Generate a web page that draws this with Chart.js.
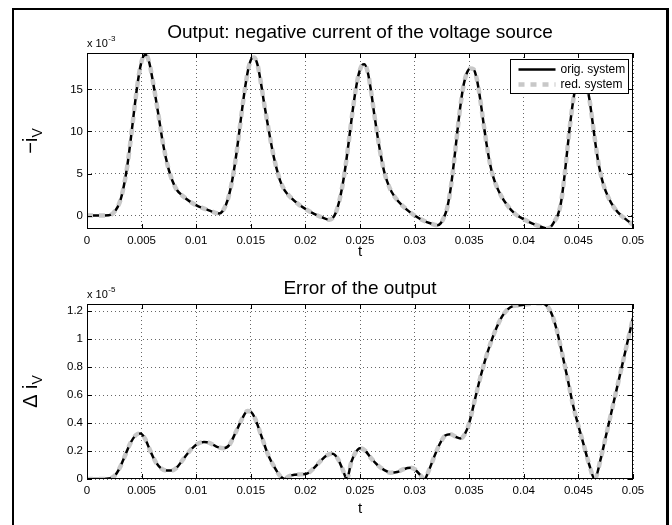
<!DOCTYPE html>
<html><head><meta charset="utf-8">
<script src="https://cdn.jsdelivr.net/npm/chart.js@4.4.1/dist/chart.umd.min.js"></script>
<style>
html,body{margin:0;padding:0;background:#fff;overflow:hidden;width:672px;height:525px;position:relative}
#frame{position:absolute;left:12px;top:8px;width:652px;height:700px;border-left:2px solid #000;border-top:2px solid #000;border-right:3px solid #000}
canvas{position:absolute;left:0}
</style></head><body>
<div id="frame"></div>
<canvas id="c1" width="672" height="262" style="top:0"></canvas>
<canvas id="c2" width="672" height="263" style="top:262px"></canvas>
<script>
const FONT = '"Liberation Sans", Arial, Helvetica, sans-serif';

// shared time axis ticks
const timeTicks = [0, 0.005, 0.01, 0.015, 0.02, 0.025, 0.03, 0.035, 0.04, 0.045, 0.05];
const timeTickLabels = ['0', '0.005', '0.01', '0.015', '0.02', '0.025', '0.03', '0.035', '0.04', '0.045', '0.05'];

// top plot: -i_V (x 1e-3)
const outTime = [0, 0.001, 0.002, 0.0024, 0.0028, 0.0031, 0.0034, 0.0037, 0.0040, 0.0043, 0.0046, 0.0049, 0.0052, 0.0054, 0.0057, 0.0060, 0.0063, 0.0066, 0.0069, 0.0072, 0.0075, 0.0078, 0.0082, 0.0088, 0.0095, 0.0102, 0.0110, 0.0117, 0.0121,
  0.0124, 0.0127, 0.0130, 0.0133, 0.0136, 0.0139, 0.0142, 0.0145, 0.0148, 0.0151, 0.0153, 0.0156, 0.0159, 0.0162, 0.0165, 0.0168, 0.0171, 0.0174, 0.0177, 0.0181, 0.0187, 0.0194, 0.0201, 0.0208, 0.0215, 0.0222,
  0.0225, 0.0228, 0.0231, 0.0234, 0.0237, 0.0240, 0.0243, 0.0246, 0.0249, 0.0252, 0.0254, 0.0257, 0.0260, 0.0263, 0.0266, 0.0269, 0.0272, 0.0275, 0.0279, 0.0285, 0.0292, 0.0300, 0.0308, 0.0315, 0.0321,
  0.0324, 0.0327, 0.0330, 0.0333, 0.0336, 0.0339, 0.0342, 0.0345, 0.0348, 0.0351, 0.0354, 0.0357, 0.0360, 0.0363, 0.0366, 0.0369, 0.0372, 0.0375, 0.0379, 0.0385, 0.0392, 0.0400, 0.0408, 0.0415, 0.0422,
  0.0425, 0.0428, 0.0431, 0.0434, 0.0437, 0.0440, 0.0443, 0.0446, 0.0449, 0.0452, 0.0454, 0.0457, 0.0460, 0.0463, 0.0466, 0.0469, 0.0472, 0.0475, 0.0480, 0.0486, 0.0493, 0.0500];
const outOrig = [0, 0, 0.03, 0.3, 1.0, 2.0, 3.7, 6.0, 9.0, 12.3, 15.4, 17.8, 19.0, 19.1, 18.2, 16.2, 13.9, 11.5, 9.0, 7.0, 5.4, 4.2, 3.1, 2.3, 1.6, 1.1, 0.7, 0.35, 0.25,
  0.5, 1.2, 2.4, 4.2, 6.6, 9.5, 12.6, 15.4, 17.6, 18.7, 18.8, 18.0, 16.0, 13.5, 11.2, 9.0, 7.0, 5.4, 4.1, 3.0, 2.1, 1.3, 0.7, 0.2, -0.2, -0.5,
  -0.3, 0.4, 1.7, 3.6, 6.1, 9.1, 12.2, 14.9, 16.9, 17.9, 18.0, 17.1, 14.9, 12.1, 9.5, 7.2, 5.3, 4.0, 2.8, 1.7, 0.8, 0.0, -0.6, -0.95, -1.15,
  -0.9, -0.2, 1.0, 3.2, 6.3, 9.8, 13.1, 15.6, 17.0, 17.5, 17.4, 16.2, 13.9, 11.1, 8.4, 6.2, 4.6, 3.5, 2.4, 1.2, 0.2, -0.45, -0.95, -1.3, -1.55,
  -1.3, -0.7, 0.0, 1.5, 4.4, 8.0, 11.5, 14.3, 16.0, 16.8, 16.8, 15.9, 13.9, 11.1, 8.2, 5.8, 4.1, 2.9, 1.5, 0.4, -0.4, -1.1];
const outRed = outOrig.slice();
const outTicks = [0, 5, 10, 15];
const outTickLabels = ['0', '5', '10', '15'];

// bottom plot: error (x 1e-5)
const errTime = [0, 0.0015, 0.002, 0.0025, 0.003, 0.0035, 0.004, 0.0045, 0.0049, 0.0053, 0.0058, 0.0063, 0.0068, 0.0073, 0.0077, 0.0082, 0.0088, 0.0094, 0.0100, 0.0107, 0.0113, 0.0119, 0.0125, 0.0130, 0.0136, 0.0142, 0.0147, 0.0150, 0.0154, 0.0160, 0.0166, 0.0172, 0.0177, 0.0181, 0.0185, 0.0190, 0.0196, 0.0202, 0.0208, 0.0214, 0.0220, 0.0225, 0.0230, 0.0234, 0.0238, 0.0242, 0.0246, 0.0250, 0.0255, 0.0260, 0.0266, 0.0272, 0.0278, 0.0284, 0.0290, 0.0296, 0.0300, 0.0305, 0.0309, 0.0313, 0.0318, 0.0323, 0.0328, 0.0333, 0.0338, 0.0342, 0.0346, 0.0350, 0.0355, 0.0360, 0.0365, 0.0370, 0.0375, 0.0380, 0.0385, 0.0390, 0.0395, 0.0400, 0.0405, 0.0410, 0.0415, 0.0420, 0.0425, 0.0430, 0.0435, 0.0440, 0.0445, 0.0450, 0.0455, 0.0460, 0.0465, 0.0470, 0.0475, 0.0480, 0.0485, 0.0490, 0.0495, 0.0500];
const errOrig = [0, 0, 0.003, 0.02, 0.08, 0.17, 0.26, 0.315, 0.325, 0.29, 0.2, 0.12, 0.075, 0.06, 0.06, 0.08, 0.14, 0.2, 0.245, 0.265, 0.255, 0.23, 0.22, 0.24, 0.33, 0.43, 0.485, 0.48, 0.43, 0.3, 0.17, 0.08, 0.02, 0.0, 0.02, 0.03, 0.033, 0.04, 0.08, 0.13, 0.17, 0.18, 0.14, 0.07, 0.0, 0.12, 0.19, 0.22, 0.2, 0.15, 0.1, 0.065, 0.045, 0.05, 0.07, 0.08, 0.07, 0.03, 0.0, 0.06, 0.16, 0.25, 0.31, 0.32, 0.3, 0.29, 0.32, 0.4, 0.56, 0.72, 0.86, 0.98, 1.08, 1.16, 1.21, 1.235, 1.24, 1.245, 1.25, 1.255, 1.255, 1.245, 1.19, 1.07, 0.9, 0.72, 0.53, 0.38, 0.24, 0.1, 0.0, 0.13, 0.3, 0.47, 0.64, 0.81, 0.98, 1.15];
const errRed = errOrig.slice();
const errTicks = [0, 0.2, 0.4, 0.6, 0.8, 1, 1.2];
const errTickLabels = ['0', '0.2', '0.4', '0.6', '0.8', '1', '1.2'];

const seriesNames = ['orig. system', 'red. system'];

const matlabPlugin = {
  id: 'matlab',
  afterDatasetsDraw(chart, args, o) {
    const ctx = chart.ctx, a = chart.chartArea, xs = chart.scales.x, ys = chart.scales.y;
    ctx.save();
    ctx.setLineDash([]);
    ctx.strokeStyle = '#000';
    ctx.lineWidth = 1;
    ctx.strokeRect(Math.round(a.left) + 0.5, Math.round(a.top) + 0.5, Math.round(a.right - a.left) - 1, Math.round(a.bottom - a.top) - 1);
    ctx.beginPath();
    xs.ticks.forEach(t => {
      const p = Math.round(xs.getPixelForValue(t.value)) + 0.5;
      ctx.moveTo(p, a.bottom); ctx.lineTo(p, a.bottom - 5);
      ctx.moveTo(p, a.top); ctx.lineTo(p, a.top + 5);
    });
    ys.ticks.forEach(t => {
      const p = Math.round(ys.getPixelForValue(t.value)) + 0.5;
      ctx.moveTo(a.left, p); ctx.lineTo(a.left + 5, p);
      ctx.moveTo(a.right, p); ctx.lineTo(a.right - 5, p);
    });
    ctx.stroke();
    ctx.fillStyle = '#000';
    // title centred over the axes
    ctx.textAlign = 'center';
    ctx.textBaseline = 'middle';
    ctx.font = '19px ' + FONT;
    ctx.fillText(o.title, (a.left + a.right) / 2, o.titleY);
    // exponent label
    ctx.textAlign = 'left';
    ctx.textBaseline = 'alphabetic';
    ctx.font = '11px ' + FONT;
    ctx.fillText('x 10', a.left, a.top - 6);
    const w = ctx.measureText('x 10').width;
    ctx.font = '8px ' + FONT;
    ctx.fillText(o.exp, a.left + w + 0.5, a.top - 12);
    // y label with subscript
    ctx.save();
    ctx.translate(o.ylx, (a.top + a.bottom) / 2);
    ctx.rotate(-Math.PI / 2);
    ctx.font = '20px ' + FONT;
    const w1 = ctx.measureText(o.ymain).width;
    ctx.font = '14px ' + FONT;
    const w2 = ctx.measureText('V').width;
    const x0 = -(w1 + w2) / 2;
    ctx.font = '20px ' + FONT;
    ctx.fillText(o.ymain, x0, 7);
    ctx.font = '14px ' + FONT;
    ctx.fillText('V', x0 + w1, 12);
    ctx.restore();
    // legend
    if (o.legend) {
      const bx = Math.round(a.right) - 5 - 118 + 0.5, by = Math.round(a.top) + 6 + 0.5;
      ctx.fillStyle = '#fff';
      ctx.fillRect(bx, by, 118, 34);
      ctx.strokeStyle = '#000';
      ctx.lineWidth = 1;
      ctx.strokeRect(bx, by, 118, 34);
      const ds = chart.data.datasets;
      const rows = [by + 10, by + 25];
      ds.forEach((d, i) => {
        ctx.save();
        ctx.strokeStyle = d.borderColor;
        ctx.lineWidth = d.borderWidth;
        ctx.setLineDash(d.borderDash || []);
        ctx.beginPath();
        ctx.moveTo(bx + 8, rows[i]); ctx.lineTo(bx + 45, rows[i]);
        ctx.stroke();
        ctx.restore();
        ctx.fillStyle = '#000';
        ctx.font = '12px ' + FONT;
        ctx.textBaseline = 'middle';
        ctx.fillText(d.label, bx + 50, rows[i]);
      });
    }
    ctx.restore();
  }
};

function makeChart(id, c) {
  const pts = (t, v) => t.map((x, i) => ({ x: x, y: v[i] }));
  const grid = { color: 'rgba(0,0,0,0.6)', lineWidth: 1, drawTicks: false };
  return new Chart(document.getElementById(id), {
    type: 'line',
    data: {
      datasets: [
        { label: seriesNames[0], data: pts(c.t, c.orig), borderColor: '#000', borderWidth: 2.5, pointRadius: 0, cubicInterpolationMode: 'monotone', fill: false, order: 1 },
        { label: seriesNames[1], data: pts(c.t, c.red), borderColor: '#c8c8c8', borderWidth: 4.5, borderDash: [6, 6], pointRadius: 0, cubicInterpolationMode: 'monotone', fill: false, order: 0 }
      ]
    },
    options: {
      responsive: false, animation: false, events: [],
      layout: { padding: { left: 12, right: 39, top: c.top, bottom: 0 } },
      plugins: {
        legend: { display: false }, tooltip: { enabled: false }, title: { display: false },
        matlab: { exp: c.exp, ymain: c.ymain, ylx: 30, legend: c.legend, title: c.title, titleY: c.titleY }
      },
      scales: {
        x: {
          type: 'linear', min: 0, max: 0.05,
          afterBuildTicks: s => { s.ticks = timeTicks.map(v => ({ value: v })); },
          afterFit: s => { s.height = c.xHeight; },
          ticks: { callback: (v, i) => timeTickLabels[i], color: '#000', font: { family: FONT, size: 11.5 }, padding: 5, maxRotation: 0, autoSkip: false },
          grid: grid, border: { display: false, dash: [1, 3] },
          title: { display: true, text: 't', color: '#000', font: { family: FONT, size: 15 }, padding: { top: 0, bottom: c.tPad } }
        },
        y: {
          type: 'linear', min: c.ymin, max: c.ymax,
          afterBuildTicks: s => { s.ticks = c.ticks.map(v => ({ value: v })); },
          afterFit: s => { s.width = 75; },
          ticks: { callback: (v, i) => c.tickLabels[i], color: '#000', font: { family: FONT, size: 11.5 }, padding: 4, autoSkip: false },
          grid: grid, border: { display: false, dash: [1, 3] }
        }
      }
    },
    plugins: [matlabPlugin]
  });
}

makeChart('c1', {
  t: outTime, orig: outOrig, red: outRed, ticks: outTicks, tickLabels: outTickLabels,
  ymin: -1.6, ymax: 19.33, title: 'Output: negative current of the voltage source',
  top: 53, titleY: 33, xHeight: 33, tPad: 1, exp: '-3', ymain: '\u2212i', legend: true
});
makeChart('c2', {
  t: errTime, orig: errOrig, red: errRed, ticks: errTicks, tickLabels: errTickLabels,
  ymin: 0, ymax: 1.25, title: 'Error of the output',
  top: 42, titleY: 27, xHeight: 46, tPad: 7, exp: '-5', ymain: '\u0394 i', legend: false
});
</script>
</body></html>
